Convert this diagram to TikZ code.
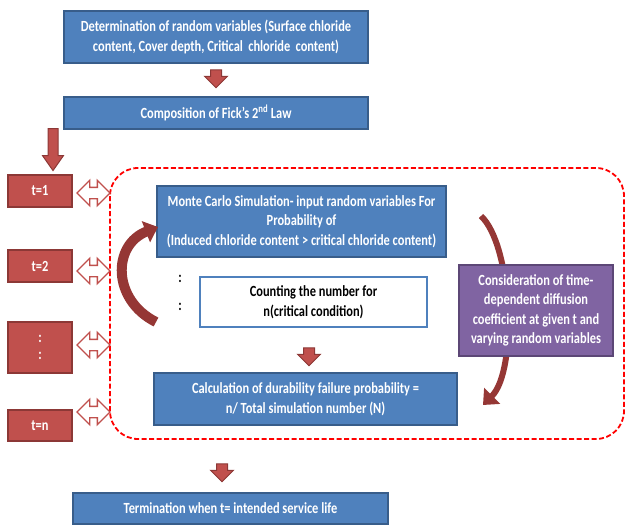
\documentclass[tikz,border=0pt]{standalone}
\usepackage{fontspec}
\setmainfont{Carlito}[FakeStretch=0.8]
\usepackage{tikz}
\usetikzlibrary{arrows.meta,positioning,shapes.arrows}
\definecolor{boxblue}{HTML}{4F81BD}
\definecolor{boxblueline}{HTML}{385D8A}
\definecolor{boxred}{HTML}{C0504D}
\definecolor{boxredline}{HTML}{8C3836}
\definecolor{boxpurple}{HTML}{8064A2}
\definecolor{boxpurpleline}{HTML}{5C4776}
\definecolor{curvered}{HTML}{953735}

\begin{document}
\begin{tikzpicture}[x=1pt, y=-1pt,
    bluebox/.style={draw=boxblueline, line width=1.6pt, fill=boxblue, text=white,
                    align=center, inner sep=2pt, font=\bfseries\fontsize{15.5}{19.5}\selectfont},
    whitebox/.style={draw=boxblue, line width=1.6pt, fill=white, text=black,
                    align=center, inner sep=2pt, font=\bfseries\fontsize{15.5}{19.5}\selectfont},
    tbox/.style={draw=boxredline, line width=1.6pt, fill=boxred, text=white,
                 minimum width=64pt, align=center, font=\bfseries\fontsize{15.5}{15}\selectfont},
    purplebox/.style={draw=boxpurpleline, line width=1.6pt, fill=boxpurple, text=white,
                      align=center, inner sep=2pt, font=\bfseries\fontsize{15.5}{19.5}\selectfont},
    downarr/.style={single arrow, shape border rotate=270, draw=boxredline, line width=1pt,
                    fill=boxred, inner sep=5pt, single arrow head extend=6pt,
                    minimum height=18pt},
    swaparr/.style={double arrow, draw=boxred, line width=1.4pt, fill=white,
                    inner sep=5pt, double arrow head extend=7pt, minimum height=33pt},
    curvarr/.style={draw=curvered, -{Triangle[length=13pt, width=22pt]}},
    dots/.style={font=\bfseries\fontsize{15.5}{15}\selectfont}
  ]
  \useasboundingbox (0,0) rectangle (626,525);
  % Loop region
  \draw[red, dashed, line width=1.8pt, dash pattern=on 5pt off 2.5pt, rounded corners=28pt]
    (110,168) rectangle (624,439);
  % Main column
  \node[bluebox, minimum width=304pt, minimum height=52pt] (det) at (216,37)
    {Determination of random variables (Surface chloride\\content, Cover depth, Critical\, chloride\, content)};
  \node[bluebox, minimum width=304pt, minimum height=32pt] (fick) at (216,113)
    {Composition of Fick’s 2\textsuperscript{nd} Law};
  \node[downarr] (a1) at (216,76) {};
  \node[downarr, minimum height=42pt, inner sep=4.5pt, single arrow head extend=5.5pt,
        single arrow tip angle=70] (a2) at (53,146) {};
  % Time steps
  \node[tbox, minimum height=32pt] (t1) at (40,191) {t=1};
  \node[tbox, minimum height=32pt] (t2) at (40,266) {t=2};
  \node[tbox, minimum height=51pt] (tk) at (40,347.5) {:\\[2pt]:};
  \node[tbox, minimum height=31pt] (tn) at (40,425.5) {t=n};
  \node[swaparr] (s1) at (93.5,193) {};
  \node[swaparr] (s2) at (93.5,271) {};
  \node[swaparr] (sk) at (93.5,345) {};
  \node[swaparr] (sn) at (93.5,412) {};
  % Simulation steps
  \node[bluebox, minimum width=289pt, minimum height=71pt] (mcs) at (301.5,221.5)
    {Monte Carlo Simulation- input random variables For\\Probability of\\(Induced chloride content > critical chloride content)};
  \node[dots] (d1) at (180,279) {:};
  \node[dots] (d2) at (180,307) {:};
  \node[whitebox, minimum width=227pt, minimum height=50pt] (cnt) at (313.5,302)
    {Counting the number for\\n(critical condition)};
  \node[downarr] (a3) at (309,354) {};
  \node[bluebox, minimum width=303pt, minimum height=52pt] (calc) at (305.5,399)
    {Calculation of durability failure probability =\\n/ Total simulation number (N)};
  % Loop arrows
  \coordinate (lt) at (156,322);
  \coordinate (lh) at (158,227);
  \draw[curvarr, line width=10pt] (lt) .. controls (112,300) and (112,245) .. (lh);
  \coordinate (rt) at (481,216);
  \coordinate (rh) at (483,405);
  \draw[curvarr, line width=6pt] (rt) .. controls (512,245) and (518,370) .. (rh);
  \node[purplebox, minimum width=154pt, minimum height=91pt] (cons) at (536,310.5)
    {Consideration of time-\\dependent diffusion\\coefficient at given t and\\varying random variables};
  % End
  \node[downarr] (a4) at (222,470) {};
  \node[bluebox, minimum width=315pt, minimum height=31pt] (term) at (230.5,508.5)
    {Termination when t= intended service life};
\end{tikzpicture}
\end{document}
